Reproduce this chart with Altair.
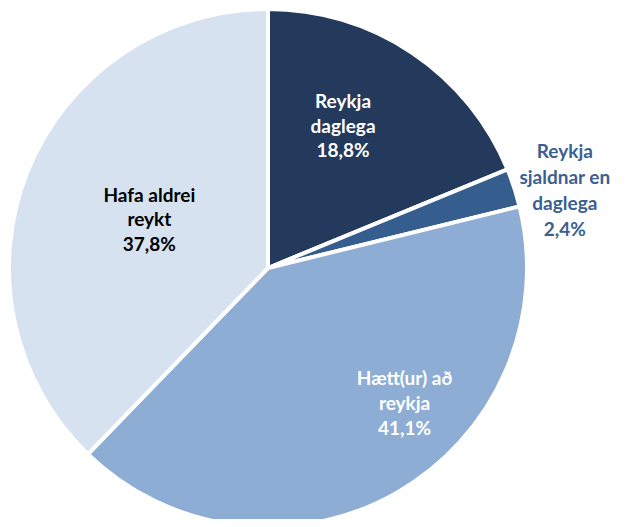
import altair as alt
import pandas as pd

labels = ["Reykja\ndaglega\n18,8%", "Reykja\nsjaldnar en\ndaglega\n2,4%", "Hætt(ur) að\nreykja\n41,1%", "Hafa aldrei\nreykt\n37,8%"]
categories = ["Reykja daglega", "Reykja sjaldnar en daglega", "Hætt(ur) að reykja", "Hafa aldrei reykt"]
values = [18.8, 2.4, 41.1, 37.8]
colors = ["#233A5C", "#355D8D", "#8DADD4", "#D6E2EF"]
text_colors = ["#FFFFFF", "#3A5F90", "#FFFFFF", "#000000"]

df = pd.DataFrame({
    "idx": list(range(len(values))),
    "cat": categories,
    "label": labels,
    "value": values,
    "tcol": text_colors,
})

CX, CY, R = 260, 260, 259

arcs = alt.Chart(df).mark_arc(outerRadius=R, stroke="white", strokeWidth=4).encode(
    theta=alt.Theta("value:Q", stack=True),
    order=alt.Order("idx:Q"),
    color=alt.Color("cat:N", scale=alt.Scale(domain=categories, range=colors), legend=None),
    x=alt.value(CX),
    y=alt.value(CY),
)

base_text = alt.Chart(df).transform_window(
    cum="sum(value)", sort=[alt.SortField("idx")]
).transform_joinaggregate(
    total="sum(value)"
).transform_calculate(
    mid="(datum.cum - datum.value/2) / datum.total * 2 * PI"
)

# (radius, dx, dy, lineHeight) style offsets per label
offsets = [(160, -14, -33, 24.5), (308, 4, -20, 26), (194, 40, -57, 25), (128, 0, -24, 24.5)]
layers = [arcs]
for i, (rad, dx, dy, lh) in enumerate(offsets):
    layers.append(
        base_text.transform_filter(f"datum.idx == {i}").mark_text(
            radius=rad, dx=dx, dy=dy, font="Lato", fontWeight="bold", fontSize=19,
            lineBreak="\n", lineHeight=lh, align="center", baseline="middle",
        ).encode(
            theta=alt.Theta("mid:Q", scale=None),
            text="label:N",
            color=alt.Color("tcol:N", scale=None),
            x=alt.value(CX),
            y=alt.value(CY),
        )
    )

chart = alt.layer(*layers).properties(
    width=609, height=511, padding=0, autosize="none"
).configure_view(stroke=None)

chart.save("out.html", embed_options={"renderer": "svg", "actions": False})
